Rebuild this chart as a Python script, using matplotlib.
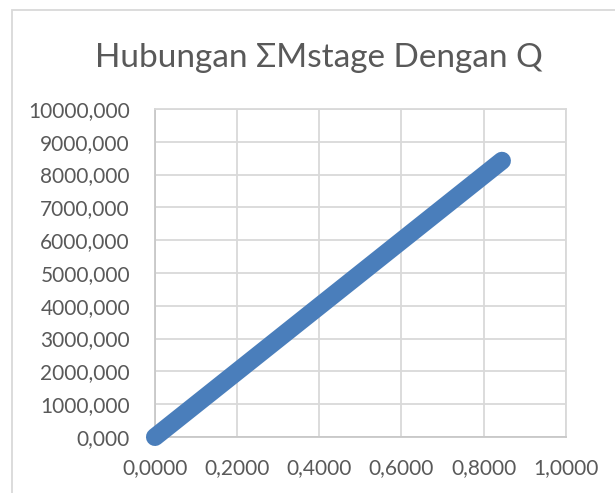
import numpy as np
import matplotlib.pyplot as plt
from matplotlib.patches import Rectangle

# data (start and end of the plotted series)
q = [0.0, 0.8445]
m_stage = [0.0, 8420.0]

x_ticks = [0.0, 0.2, 0.4, 0.6, 0.8, 1.0]
y_ticks = [0, 1000, 2000, 3000, 4000, 5000, 6000, 7000, 8000, 9000, 10000]

text_col = '#595959'
grid_col = '#d9d9d9'
blue = '#4a7ebb'

plt.rcParams['font.family'] = ['Lato', 'DejaVu Sans']

fig = plt.figure(figsize=(6.15, 4.93), dpi=100)
ax = fig.add_axes([0.252, 0.1136, 0.668, 0.6654])

ax.plot(q, m_stage, color=blue, lw=13, solid_capstyle='round', zorder=3, clip_on=False)

ax.set_xlim(0, 1.0)
ax.set_ylim(0, 10000)
ax.set_xticks(x_ticks)
ax.set_yticks(y_ticks)
ax.set_xticklabels([f"{v:.4f}".replace('.', ',') for v in x_ticks])
ax.set_yticklabels([f"{v:.3f}".replace('.', ',') for v in y_ticks])
ax.tick_params(length=0, labelsize=15, colors=text_col)
ax.tick_params(axis='y', pad=18)
ax.tick_params(axis='x', pad=15)
ax.grid(True, color=grid_col, lw=1.3)
ax.set_axisbelow(True)
for s in ax.spines.values():
    s.set_color(grid_col)
    s.set_linewidth(1.3)
ax.spines['left'].set_color('#c8c8c8')
ax.spines['bottom'].set_color('#c8c8c8')

fig.text(0.519, 1 - 67 / 493, 'Hubungan \u03a3Mstage Dengan Q', ha='center', va='baseline',
         fontsize=24, color=text_col)

# chart area border (cut off at right and bottom)
fig.patches.append(Rectangle((12 / 615, -0.1), 1.2, 1 - 10 / 493 + 0.1,
                             transform=fig.transFigure, fill=False,
                             edgecolor=grid_col, lw=1.3))

fig.savefig('out.png', dpi=100)
